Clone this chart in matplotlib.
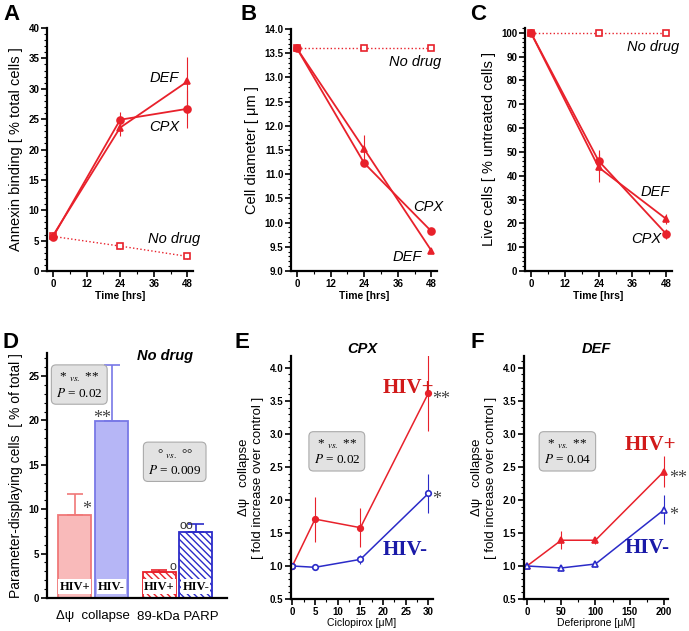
import matplotlib
matplotlib.use("Agg")
import matplotlib.pyplot as plt
from matplotlib.ticker import MultipleLocator, FormatStrFormatter

plt.rcParams["font.family"] = ["Liberation Sans", "DejaVu Sans"]
plt.rcParams["mathtext.fontset"] = "stix"
plt.rcParams["hatch.linewidth"] = 1.0

RED = "#e8212b"
LRED = "#f07878"
BLUE = "#2b2bc8"
LBLUE = "#7878e6"

# ── data: time course panels (A, B, C) ──────────────────────────────────────
time_h = [0, 24, 48]

annexin_nodrug = [5.7, 4.1, 2.4]
annexin_nodrug_err = [0.5, 0.5, 0.5]
annexin_cpx = [5.6, 24.9, 26.7]
annexin_cpx_err = [0.4, 1.2, 3.1]
annexin_def = [5.8, 23.6, 31.2]
annexin_def_err = [0.4, 1.4, 4.0]

diam_nodrug = [13.6, 13.6, 13.6]
diam_nodrug_err = [0.05, 0.04, 0.03]
diam_cpx = [13.6, 11.23, 9.82]
diam_cpx_err = [0.04, 0.04, 0.04]
diam_def = [13.6, 11.52, 9.42]
diam_def_err = [0.04, 0.3, 0.03]

live_nodrug = [100, 100, 100]
live_cpx = [100, 46.2, 15.5]
live_cpx_err = [0.5, 4.5, 2.0]
live_def = [100, 43.5, 21.8]
live_def_err = [0.5, 6.0, 2.0]

# ── data: panel D bars ──────────────────────────────────────────────────────
bar_groups = ["Δψ  collapse", "89-kDa PARP"]
bar_labels = ["HIV+", "HIV-", "HIV+", "HIV-"]
bar_values = [9.4, 19.9, 2.9, 7.4]
bar_errors = [2.3, 6.3, 0.2, 0.9]

# ── data: panels E, F dose response ─────────────────────────────────────────
cpx_dose = [0, 5, 15, 30]
cpx_hivpos = [1.0, 1.71, 1.58, 3.62]
cpx_hivpos_err = [0.0, 0.34, 0.3, 0.57]
cpx_hivneg = [1.0, 0.98, 1.1, 2.1]
cpx_hivneg_err = [0.0, 0.03, 0.07, 0.3]

def_dose = [0, 50, 100, 200]
def_hivpos = [1.0, 1.39, 1.39, 2.43]
def_hivpos_err = [0.0, 0.14, 0.05, 0.24]
def_hivneg = [1.0, 0.97, 1.03, 1.85]
def_hivneg_err = [0.0, 0.05, 0.05, 0.22]

W, H = 689, 631
fig = plt.figure(figsize=(W / 100, H / 100), dpi=100)


def add_axes(l, r, t, b):
    return fig.add_axes([l / W, 1 - b / H, (r - l) / W, (b - t) / H])


def style(ax):
    ax.spines["top"].set_visible(False)
    ax.spines["right"].set_visible(False)
    ax.spines["left"].set_linewidth(1.6)
    ax.spines["bottom"].set_linewidth(1.6)
    ax.tick_params(which="major", length=4, width=1.2, labelsize=7, pad=1.5)
    ax.tick_params(which="minor", length=2, width=0.8)
    for lab in ax.get_xticklabels() + ax.get_yticklabels():
        lab.set_fontweight("bold")


def stat_box(ax, x, y, p, sym1="*", sym2="**", size=9.5):
    ax.text(x, y, f"{sym1} $_{{vs.}}$ {sym2}\n$P$ = {p}",
            fontsize=size, family="Liberation Serif", ha="center", va="center",
            linespacing=1.25,
            bbox=dict(boxstyle="round,pad=0.35", fc="#e2e2e2", ec="#aaaaaa", lw=0.8))


def label(ax, x, y, s, size=10.5):
    ax.text(x, y, s, fontsize=size, style="italic", ha="left", va="center")


def time_panel(ax, ylim, ymajor, yminor, ylabel):
    ax.set_xlim(-2.1, 50)
    ax.set_ylim(*ylim)
    ax.xaxis.set_major_locator(MultipleLocator(12))
    ax.xaxis.set_minor_locator(MultipleLocator(6))
    ax.yaxis.set_major_locator(MultipleLocator(ymajor))
    ax.yaxis.set_minor_locator(MultipleLocator(yminor))
    ax.set_xlabel("Time [hrs]", fontsize=7.5, fontweight="bold", labelpad=2)
    ax.set_ylabel(ylabel, fontsize=10.5)


def series(ax, x, y, err, marker, ls="-", filled=True, color=RED, ms=5, lw=1.3):
    ax.errorbar(x, y, yerr=err, color=color, ls=ls, lw=lw, marker=marker, ms=ms,
                mfc=color if filled else "white", mec=color, mew=1.2,
                ecolor=color, elinewidth=0.8, capsize=0)


# ── A ───────────────────────────────────────────────────────────────────────
axA = add_axes(47, 193, 28, 271)
time_panel(axA, (0, 40), 5, 1, "Annexin binding [ % total cells ]")
series(axA, time_h, annexin_nodrug, annexin_nodrug_err, "s", ls=":", filled=False, lw=1.0, ms=4.5)
series(axA, time_h, annexin_cpx, annexin_cpx_err, "o")
series(axA, time_h, annexin_def, annexin_def_err, "^")
label(axA, 34.5, 31.8, "DEF")
label(axA, 34.5, 23.7, "CPX")
label(axA, 34.0, 5.3, "No drug")
style(axA)

# ── B ───────────────────────────────────────────────────────────────────────
axB = add_axes(291, 437, 29, 271)
time_panel(axB, (9, 14), 0.5, 0.1, "Cell diameter [ μm ]")
axB.yaxis.set_major_formatter(FormatStrFormatter("%.1f"))
series(axB, time_h, diam_nodrug, diam_nodrug_err, "s", ls=":", filled=False, lw=1.0, ms=4.5)
series(axB, time_h, diam_cpx, diam_cpx_err, "o")
series(axB, time_h, diam_def, diam_def_err, "^")
label(axB, 33, 13.32, "No drug")
label(axB, 41.5, 10.32, "CPX")
label(axB, 34, 9.29, "DEF")
style(axB)

# ── C ───────────────────────────────────────────────────────────────────────
axC = add_axes(525, 672, 28, 271)
time_panel(axC, (0, 102), 10, 2, "Live cells [ % untreated cells ]")
series(axC, time_h, live_nodrug, None, "s", ls=":", filled=False, lw=1.0, ms=4.5)
series(axC, time_h, live_cpx, live_cpx_err, "o")
series(axC, time_h, live_def, live_def_err, "^")
label(axC, 34.0, 94.1, "No drug")
label(axC, 39.0, 33.2, "DEF")
label(axC, 35.5, 13.4, "CPX")
style(axC)

# ── D ───────────────────────────────────────────────────────────────────────
axD = add_axes(47, 227, 353, 598)
bar_x = [0.82, 1.9, 3.31, 4.38]
bar_fc = ["#f9baba", "#b6b6f6", "white", "white"]
bar_ec = [LRED, LBLUE, RED, BLUE]
bar_hatch = [None, None, "\\\\\\\\\\", "\\\\\\\\\\"]
for x, v, e, fc, ec, h, lab in zip(bar_x, bar_values, bar_errors, bar_fc, bar_ec,
                                   bar_hatch, bar_labels):
    axD.bar(x, v, width=0.98, color=fc, edgecolor=ec, hatch=h, lw=1.3, zorder=2)
    axD.errorbar(x, v, yerr=[[0], [e]], color=ec, lw=0, elinewidth=1.2,
                 capsize=6, capthick=1.2, zorder=3)
    axD.text(x, 0.6, lab, fontsize=9, fontweight="bold", family="Liberation Serif",
             ha="center", va="bottom", zorder=4,
             bbox=dict(boxstyle="square,pad=0.1", fc="white", ec="none"))
axD.set_xlim(0, 5.3)
axD.set_ylim(0, 27.6)
axD.yaxis.set_major_locator(MultipleLocator(5))
axD.yaxis.set_minor_locator(MultipleLocator(1))
axD.set_xticks([1.36, 3.85])
axD.set_xticklabels(bar_groups)
axD.set_ylabel("Parameter-displaying cells  [ % of total ]", fontsize=10)
style(axD)
axD.tick_params(axis="x", length=0, pad=9, labelsize=9.5)
for lab in axD.get_xticklabels():
    lab.set_fontweight("normal")
axD.text(2.65, 27.3, "No drug", fontsize=10.5, fontweight="bold", style="italic", va="center")
axD.text(1.17, 10.0, "*", fontsize=13, family="Liberation Serif", color="#444444",
         ha="center", va="center")
axD.text(1.62, 20.2, "**", fontsize=13, family="Liberation Serif", color="#444444",
         ha="center", va="center")
axD.text(3.72, 3.5, "o", fontsize=9, color="#333333", ha="center", va="center")
axD.text(4.1, 8.1, "oo", fontsize=9, color="#333333", ha="center", va="center")
stat_box(axD, 0.95, 24.0, "0.02")
stat_box(axD, 3.76, 15.3, "0.009", sym1="°", sym2="°°")


# ── E ───────────────────────────────────────────────────────────────────────
def dose_panel(ax, xlim, xmajor, xminor, xlabel, title):
    ax.set_xlim(*xlim)
    ax.set_ylim(0.5, 4.18)
    ax.xaxis.set_major_locator(MultipleLocator(xmajor))
    ax.xaxis.set_minor_locator(MultipleLocator(xminor))
    ax.yaxis.set_major_locator(MultipleLocator(0.5))
    ax.yaxis.set_minor_locator(MultipleLocator(0.1))
    ax.set_xlabel(xlabel, fontsize=7.5, labelpad=1)
    ax.set_ylabel("Δψ   collapse\n[ fold increase over control ]", fontsize=9.5)
    ax.set_title(title, fontsize=10.5, fontweight="bold", style="italic", pad=2)
    style(ax)


def hiv_label(ax, x, y, s, color):
    ax.text(x, y, s, fontsize=15, fontweight="bold", family="Liberation Serif",
            color=color, ha="left", va="center")


def star(ax, x, y, s):
    ax.text(x, y, s, fontsize=13, family="Liberation Serif", color="#444444",
            ha="left", va="center")


axE = add_axes(291, 433, 356, 599)
dose_panel(axE, (-0.3, 31), 5, 2.5, "Ciclopirox [μM]", "CPX")
series(axE, cpx_dose, cpx_hivpos, cpx_hivpos_err, "o", color=RED, ms=4, lw=1.1)
series(axE, cpx_dose, cpx_hivneg, cpx_hivneg_err, "o", filled=False, color=BLUE, ms=4, lw=1.1)
hiv_label(axE, 20.0, 3.7, "HIV+", "#d11a1a")
hiv_label(axE, 20.0, 1.24, "HIV-", "#1a1aa8")
star(axE, 30.7, 3.52, "**")
star(axE, 30.9, 2.0, "*")
stat_box(axE, 9.8, 2.73, "0.02")

# ── F ───────────────────────────────────────────────────────────────────────
axF = add_axes(524, 668, 356, 599)
dose_panel(axF, (-4.4, 206), 50, 25, "Deferiprone [μM]", "DEF")
series(axF, def_dose, def_hivpos, def_hivpos_err, "^", color=RED, ms=4.5, lw=1.1)
series(axF, def_dose, def_hivneg, def_hivneg_err, "^", filled=False, color=BLUE, ms=4.5, lw=1.1)
hiv_label(axF, 142, 2.83, "HIV+", "#d11a1a")
hiv_label(axF, 142, 1.27, "HIV-", "#1a1aa8")
star(axF, 207, 2.33, "**")
star(axF, 207, 1.77, "*")
stat_box(axF, 59, 2.73, "0.04")

# ── panel letters ───────────────────────────────────────────────────────────
for letter, (px, py) in {"A": (3, 20), "B": (241, 20), "C": (470, 20),
                         "D": (3, 348), "E": (235, 348), "F": (470, 348)}.items():
    fig.text(px / W, 1 - py / H, letter, fontsize=16, fontweight="bold")

fig.savefig("out.png", dpi=100)
